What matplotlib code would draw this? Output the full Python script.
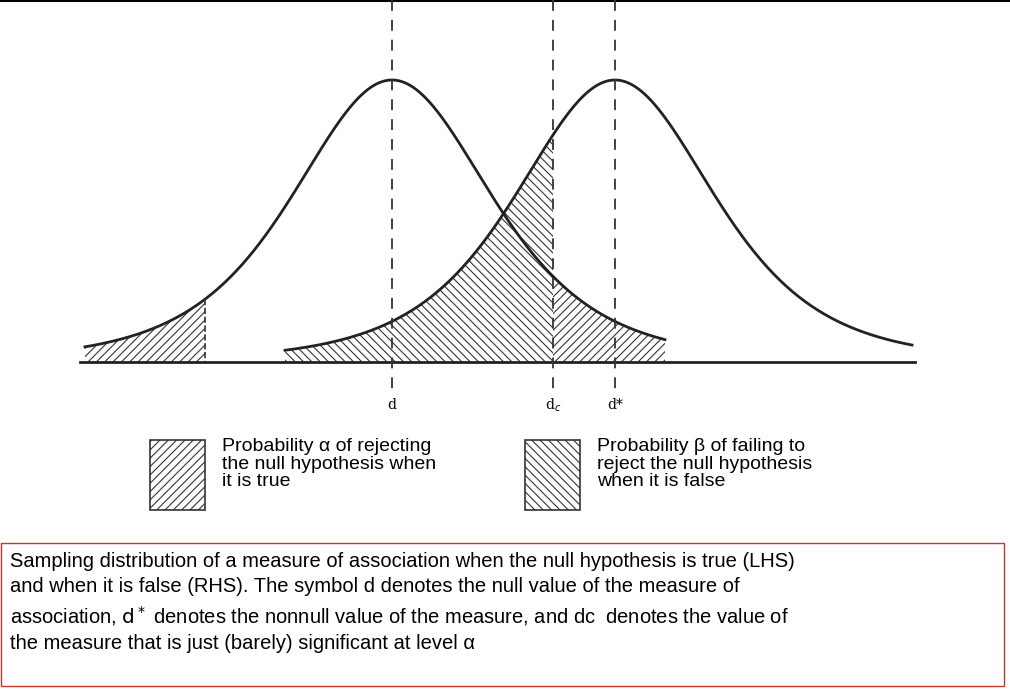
import numpy as np
import matplotlib.pyplot as plt
from matplotlib.patches import Rectangle

plt.rcParams['hatch.linewidth'] = 0.8
plt.rcParams['font.family'] = ['Liberation Sans', 'DejaVu Sans']

# curve parameters (pixel-like units)
means = [392, 615]
scale = 103
df = 4
peak = 282
baseline = 362
d_crit = 553
alpha_cut = 205
tick_labels = ["d", "d$_c$", "d*"]
legend_text = ["Probability \u03b1 of rejecting\nthe null hypothesis when\nit is true",
               "Probability \u03b2 of failing to\nreject the null hypothesis\nwhen it is false"]
caption = ("Sampling distribution of a measure of association when the null hypothesis is true (LHS)\n"
           "and when it is false (RHS). The symbol d denotes the null value of the measure of\n"
           "association, $\\mathsf{d^*}$ denotes the nonnull value of the measure, and dc  denotes the value of\n"
           "the measure that is just (barely) significant at level \u03b1")

def curve(x, m):
    z = (x - m) / scale
    return baseline - peak * (1 + z ** 2 / df) ** (-(df + 1) / 2)

fig = plt.figure(figsize=(10.1, 6.99), dpi=100)
ax = fig.add_axes([0, 0, 1, 1])
ax.set_xlim(0, 1010)
ax.set_ylim(699, 0)
ax.axis('off')
ax.axhline(1, color='black', lw=1.5)

xl = np.linspace(85, 665, 400)
xr = np.linspace(285, 912, 400)
ax.plot(xl, curve(xl, means[0]), color='#222', lw=2)
ax.plot(xr, curve(xr, means[1]), color='#222', lw=2)
ax.plot([80, 915], [baseline, baseline], color='#222', lw=2)

# alpha regions
xa = np.linspace(85, alpha_cut, 100)
ax.fill_between(xa, curve(xa, means[0]), baseline, facecolor='none', edgecolor='#333', hatch='////', lw=0)
ax.plot([alpha_cut, alpha_cut], [curve(alpha_cut, means[0]), baseline], color='#333', ls='--', lw=1.2)
xa2 = np.linspace(d_crit, 665, 100)
ax.fill_between(xa2, curve(xa2, means[0]), baseline, facecolor='none', edgecolor='#333', hatch='////', lw=0)
# beta region
xb = np.linspace(285, d_crit, 200)
ax.fill_between(xb, curve(xb, means[1]), baseline, facecolor='none', edgecolor='#333', hatch='\\\\\\\\', lw=0)

# dashed verticals
for x, lab in zip([means[0], d_crit, means[1]], tick_labels):
    ax.plot([x, x], [0, 390], color='#333', ls=(0, (6, 5)), lw=1.3)
    ax.text(x, 405, lab, ha='center', va='center', fontsize=10, family='serif')

# legend
for bx, tx, h, txt in [(150, 222, '////', legend_text[0]), (525, 597, '\\\\\\\\', legend_text[1])]:
    ax.add_patch(Rectangle((bx, 440), 55, 70, facecolor='none', edgecolor='#333', hatch=h, lw=1.2))
    ax.text(tx, 438, txt, ha='left', va='top', fontsize=14, linespacing=1.05)

# caption box
ax.add_patch(Rectangle((1, 543), 1003, 143, facecolor='white', edgecolor='#c0392b', lw=1))
ax.text(10, 552, caption, ha='left', va='top', fontsize=14.5, linespacing=1.4)

fig.savefig('out.png', dpi=100)
